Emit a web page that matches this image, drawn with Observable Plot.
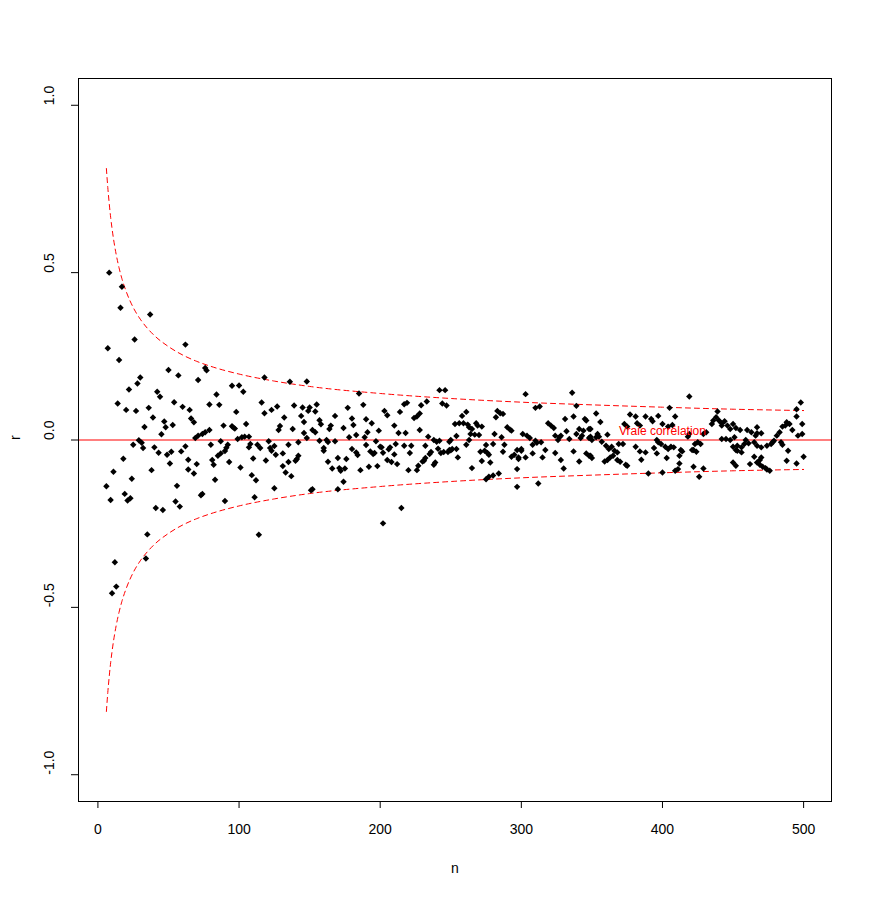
<!DOCTYPE html>
<html><head><meta charset="utf-8">
<script src="https://cdn.jsdelivr.net/npm/d3@7"></script>
<script src="https://cdn.jsdelivr.net/npm/@observablehq/plot@0.6"></script>
<style>body{margin:0;background:#fff}#chart{width:872px;height:900px}</style>
</head><body><div id="chart"></div><script>
// Tick values
const xTicks = [0, 100, 200, 300, 400, 500];
const yTicks = [-1, -0.5, 0, 0.5, 1];
// Axis titles and annotation
const xTitle = "n";
const yTitle = "r";
const labelText = "Vraie corrélation";
const labelN = 400;
const labelR = 0;
// Dashed significance curves
const curveN = [6, 7, 8, 9, 10, 11, 12, 13, 15, 17, 20, 25, 30, 35, 40, 50, 60, 70, 80, 100, 125, 150, 200, 250, 300, 350, 400, 450, 500];
const curveUpper = [0.811, 0.754, 0.707, 0.666, 0.632, 0.602, 0.576, 0.553, 0.514, 0.482, 0.444, 0.396, 0.361, 0.334, 0.312, 0.279, 0.254, 0.235, 0.220, 0.197, 0.176, 0.160, 0.139, 0.124, 0.113, 0.105, 0.098, 0.092, 0.088];
const curveLower = [-0.811, -0.754, -0.707, -0.666, -0.632, -0.602, -0.576, -0.553, -0.514, -0.482, -0.444, -0.396, -0.361, -0.334, -0.312, -0.279, -0.254, -0.235, -0.220, -0.197, -0.176, -0.160, -0.139, -0.124, -0.113, -0.105, -0.098, -0.092, -0.088];
// Sample correlations [n, r]
const samples = [
[8,0.50],[17,0.458],[16,0.395],[37,0.375],[26,0.30],[7,0.274],[15,0.239],[50,0.209],[30,0.187],[28,0.169],[22,0.151],[42,0.144],[44,0.129],[14,0.109],[20,0.09],[27,0.087],[36,0.096],[39,0.067],[47,0.055],[33,0.039],[48,0.038],[45,0.017],[29,-0.001],[31,-0.008],[25,-0.014],[32,-0.024],[40,-0.022],[43,-0.038],[49,-0.044],[51,-0.07],[18,-0.056],[11,-0.095],[38,-0.09],[24,-0.116],[6,-0.138],[9,-0.179],[19,-0.161],[21,-0.181],[23,-0.174],[41,-0.203],[46,-0.209],[35,-0.282],[34,-0.354],[12,-0.365],[13,-0.438],[10,-0.458],
[62,0.285],[57,0.193],[76,0.215],[77,0.208],[71,0.179],[84,0.136],[95,0.162],[100,0.163],[54,0.113],[60,0.099],[65,0.09],[79,0.106],[86,0.105],[98,0.084],[66,0.064],[68,0.053],[53,0.045],[89,0.043],[95,0.041],[96,0.037],[97,0.034],[79,0.03],[76,0.023],[74,0.018],[71,0.013],[69,0.006],[87,-0.004],[80,-0.014],[99,0.003],[62,-0.019],[59,-0.034],[52,-0.035],[92,-0.014],[91,-0.023],[90,-0.033],[87,-0.04],[85,-0.047],[81,-0.06],[82,-0.074],[64,-0.059],[70,-0.072],[64,-0.088],[68,-0.1],[93,-0.066],[83,-0.119],[101,-0.082],[56,-0.137],[73,-0.165],[74,-0.161],[55,-0.184],[58,-0.199],[90,-0.182],
[118,0.187],[136,0.174],[148,0.175],[103,0.144],[116,0.112],[127,0.1],[123,0.09],[118,0.08],[139,0.103],[145,0.097],[149,0.087],[132,0.067],[144,0.072],[146,0.054],[105,0.048],[129,0.042],[128,0.03],[138,0.033],[146,0.021],[104,0.01],[107,0.01],[102,0.008],[148,0.006],[121,-0.004],[142,-0.007],[108,-0.012],[107,-0.022],[113,-0.014],[115,-0.024],[125,-0.018],[122,-0.024],[123,-0.032],[135,-0.014],[131,-0.04],[126,-0.044],[110,-0.055],[119,-0.061],[142,-0.047],[141,-0.057],[140,-0.062],[135,-0.066],[131,-0.078],[133,-0.097],[137,-0.108],[109,-0.105],[112,-0.12],[125,-0.144],[151,-0.15],[111,-0.171],[114,-0.283],
[185,0.139],[188,0.105],[177,0.096],[155,0.106],[150,0.097],[154,0.085],[168,0.072],[180,0.064],[190,0.062],[194,0.05],[157,0.059],[158,0.047],[181,0.045],[165,0.043],[164,0.033],[174,0.036],[152,0.03],[154,0.023],[183,0.015],[191,0.023],[199,0.028],[178,0.008],[189,0.008],[157,-0.002],[162,0.0],[163,-0.006],[168,-0.004],[197,-0.004],[190,-0.015],[200,-0.02],[180,-0.027],[160,-0.024],[160,-0.032],[183,-0.037],[184,-0.045],[193,-0.034],[195,-0.042],[196,-0.039],[176,-0.057],[170,-0.054],[163,-0.065],[166,-0.085],[171,-0.084],[172,-0.092],[175,-0.085],[186,-0.09],[192,-0.08],[198,-0.078],[174,-0.125],[152,-0.147],[170,-0.147],
[242,0.149],[246,0.149],[233,0.115],[229,0.104],[219,0.111],[217,0.107],[244,0.109],[247,0.103],[214,0.084],[203,0.087],[205,0.074],[228,0.079],[224,0.066],[226,0.07],[210,0.043],[228,0.03],[213,0.021],[218,0.021],[234,0.01],[238,0.0],[242,-0.002],[240,-0.005],[249,-0.03],[248,-0.036],[245,-0.036],[243,-0.039],[211,-0.012],[217,-0.017],[222,-0.017],[232,-0.017],[207,-0.022],[206,-0.028],[201,-0.022],[202,-0.038],[241,-0.026],[221,-0.039],[236,-0.036],[235,-0.042],[210,-0.043],[232,-0.054],[231,-0.062],[230,-0.064],[205,-0.06],[208,-0.066],[212,-0.072],[239,-0.067],[238,-0.074],[227,-0.077],[226,-0.09],[220,-0.09],[215,-0.203],[202,-0.249],
[283,0.087],[285,0.08],[282,0.068],[287,0.078],[261,0.084],[258,0.072],[253,0.048],[256,0.05],[259,0.05],[262,0.046],[263,0.038],[268,0.05],[269,0.043],[272,0.04],[290,0.038],[292,0.031],[293,0.028],[254,0.012],[265,0.033],[264,0.018],[267,0.016],[270,0.015],[281,0.018],[286,0.008],[263,0.0],[249,-0.005],[250,0.0],[250,-0.031],[251,-0.027],[254,-0.027],[261,-0.014],[275,-0.015],[280,-0.012],[288,-0.014],[271,-0.035],[274,-0.032],[276,-0.039],[277,-0.044],[287,-0.035],[293,-0.05],[295,-0.044],[297,-0.03],[255,-0.052],[272,-0.063],[278,-0.067],[298,-0.057],[265,-0.084],[284,-0.1],[280,-0.106],[277,-0.11],[275,-0.117],[297,-0.087],[297,-0.14],
[303,0.137],[336,0.141],[310,0.096],[313,0.1],[339,0.102],[337,0.07],[331,0.063],[345,0.063],[346,0.058],[319,0.05],[321,0.043],[323,0.036],[341,0.033],[344,0.028],[348,0.033],[332,0.026],[301,0.018],[304,0.013],[306,0.006],[308,-0.014],[310,-0.002],[314,-0.007],[311,-0.008],[324,0.013],[327,0.008],[326,0.0],[328,0.013],[334,0.003],[339,0.018],[342,0.006],[343,0.013],[348,0.006],[300,-0.027],[300,-0.032],[298,-0.052],[303,-0.052],[308,-0.04],[317,-0.03],[315,-0.052],[324,-0.039],[337,-0.034],[346,-0.04],[348,-0.047],[328,-0.06],[341,-0.064],[330,-0.085],[312,-0.13],
[353,0.079],[356,0.054],[377,0.076],[381,0.07],[382,0.05],[384,0.043],[388,0.07],[392,0.063],[393,0.056],[397,0.072],[373,0.048],[375,0.04],[349,0.033],[349,0.01],[350,0.0],[354,0.018],[355,0.01],[353,0.008],[357,-0.005],[361,0.016],[369,-0.012],[372,-0.012],[396,0.0],[397,-0.007],[381,-0.02],[384,-0.034],[388,-0.037],[394,-0.024],[396,-0.04],[349,-0.047],[350,-0.054],[360,-0.017],[362,-0.027],[364,-0.02],[366,-0.032],[368,-0.037],[365,-0.047],[363,-0.052],[361,-0.06],[359,-0.064],[368,-0.06],[370,-0.065],[374,-0.074],[375,-0.077],[385,-0.059],[390,-0.1],
[419,0.13],[405,0.096],[409,0.07],[439,0.085],[438,0.068],[436,0.058],[435,0.048],[440,0.058],[442,0.05],[444,0.056],[446,0.043],[442,0.043],[448,0.033],[450,0.048],[400,0.048],[404,0.04],[407,0.045],[418,0.01],[419,0.018],[429,0.018],[431,0.023],[442,0.003],[445,0.003],[451,0.008],[448,0.0],[399,-0.012],[402,-0.02],[406,-0.02],[404,-0.027],[408,-0.022],[423,-0.012],[425,-0.007],[427,-0.012],[422,-0.03],[424,-0.035],[421,-0.03],[413,-0.03],[412,-0.047],[414,-0.034],[450,-0.02],[452,-0.03],[403,-0.054],[412,-0.07],[411,-0.087],[409,-0.092],[422,-0.08],[429,-0.085],[450,-0.067],[452,-0.077],[400,-0.097],[426,-0.11],
[498,0.112],[495,0.092],[495,0.07],[488,0.053],[490,0.048],[499,0.048],[487,0.043],[485,0.04],[452,0.036],[455,0.03],[460,0.03],[467,0.038],[467,0.02],[466,0.013],[470,0.02],[463,0.023],[492,0.03],[499,0.018],[496,0.013],[483,0.023],[481,0.013],[479,-0.002],[478,-0.007],[477,-0.012],[474,-0.017],[484,-0.007],[485,-0.014],[458,-0.012],[461,-0.01],[459,0.0],[465,-0.007],[456,-0.022],[453,-0.017],[453,-0.032],[456,-0.037],[467,-0.017],[470,-0.022],[489,-0.032],[495,-0.07],[488,-0.062],[500,-0.05],[465,-0.05],[462,-0.072],[470,-0.052],[469,-0.06],[467,-0.067],[469,-0.074],[471,-0.08],[473,-0.084],[474,-0.088],[476,-0.092]
];

const upperPts = curveN.map((n, i) => ({n, r: curveUpper[i]}));
const lowerPts = curveN.map((n, i) => ({n, r: curveLower[i]}));
const pts = samples.map(([n, r]) => ({n, r}));
const fontFam = "'Liberation Sans', Arial, Helvetica, sans-serif";

const chart = Plot.plot({
  width: 872, height: 900,
  marginLeft: 78, marginRight: 41, marginTop: 78, marginBottom: 99,
  style: {fontFamily: fontFam, fontSize: "14px", background: "white", color: "black"},
  x: {domain: [-13.76, 519.76]},
  y: {domain: [-1.08, 1.08]},
  marks: [
    Plot.ruleY([0], {stroke: "#ff0000", strokeWidth: 1.2}),
    Plot.line(upperPts, {x: "n", y: "r", stroke: "#ff0000", strokeWidth: 1, strokeDasharray: "5,4", curve: "monotone-x"}),
    Plot.line(lowerPts, {x: "n", y: "r", stroke: "#ff0000", strokeWidth: 1, strokeDasharray: "5,4", curve: "monotone-x"}),
    Plot.dot(pts, {x: "n", y: "r", symbol: "diamond2", r: 2.9, fill: "black", stroke: "none"}),
    Plot.text([{n: labelN, r: labelR, t: labelText}], {x: "n", y: "r", text: "t", fill: "#ff0000", fontSize: 12, dy: -9}),
    Plot.frame({stroke: "black"}),
    Plot.axisX({ticks: xTicks, tickSize: 7, tickPadding: 16, tickFormat: d => String(d), label: null, fontSize: 14}),
    Plot.axisY({ticks: yTicks, tickSize: 7, tickFormat: () => "", label: null}),
    Plot.text(yTicks, {y: d => d, text: d => d.toFixed(1), frameAnchor: "left", dx: -29, rotate: -90, fontSize: 14}),
    Plot.text([xTitle], {text: d => d, frameAnchor: "bottom", dy: 71, fontSize: 14}),
    Plot.text([yTitle], {text: d => d, frameAnchor: "left", dx: -63, rotate: -90, fontSize: 14})
  ]
});
document.getElementById("chart").appendChild(chart);
</script></body></html>
